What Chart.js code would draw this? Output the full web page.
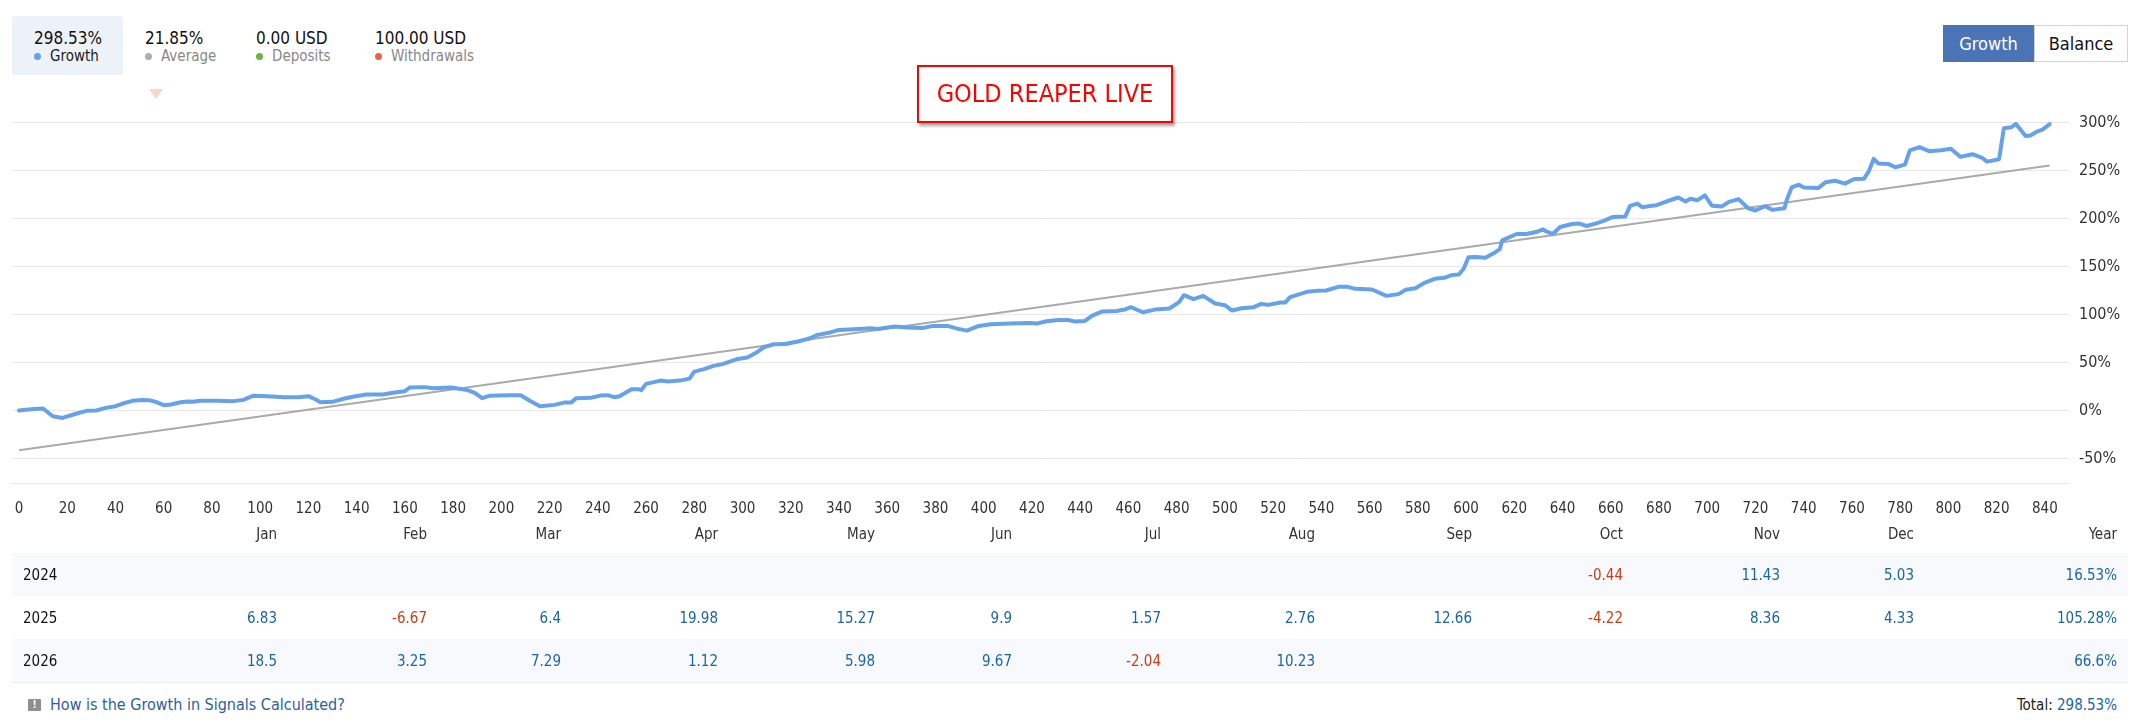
<!DOCTYPE html>
<html>
<head>
<meta charset="utf-8">
<title>Growth</title>
<script src="https://cdn.jsdelivr.net/npm/chart.js@4.4.1/dist/chart.umd.min.js"></script>
<style>
    body {
        margin: 0;
        width: 2141px;
        height: 727px;
        position: relative;
        overflow: hidden;
        background: #fff;
        font-family: 'DejaVu Sans Condensed', 'DejaVu Sans', sans-serif;
        color: #222;
    }
    .stats-active {
        position: absolute; left: 12px; top: 16px; width: 111px; height: 59px;
        background: #edf2f9; border-radius: 3px;
    }
    .stat { position: absolute; top: 0; white-space: nowrap; }
    .stat .num { position: absolute; left: 0; top: 27px; font-size: 17px; line-height: 22px; color: #111; }
    .stat .dot { position: absolute; left: 0; top: 53px; width: 7px; height: 7px; border-radius: 50%; }
    .stat .lbl { position: absolute; left: 16px; top: 46px; font-size: 15px; line-height: 20px; color: #888; }
    .stat.active .lbl { color: #222; }
    .marker {
        position: absolute; left: 149px; top: 89px; width: 0; height: 0;
        border-left: 7px solid transparent; border-right: 7px solid transparent;
        border-top: 10px solid #f9d6cc;
    }
    .btn {
        position: absolute; top: 25px; height: 37px; line-height: 37px; box-sizing: border-box;
        text-align: center; font-size: 18px;
    }
    .btn-on { left: 1943px; width: 91px; background: #4a74b5; color: #fff; }
    .btn-off { left: 2034px; width: 94px; background: #fff; color: #111; border: 1px solid #d3d3d3; line-height: 35px; }
    .title-box {
        position: absolute; left: 917px; top: 65px; width: 256px; height: 58px; z-index: 5;
        box-sizing: border-box; border: 2px solid #f00; background: #fff;
        box-shadow: 2px 3px 3px rgba(0, 0, 0, 0.35);
        color: #f00; font-size: 25px; line-height: 54px; text-align: center;
    }
    .chart-wrap { position: absolute; left: 0; top: 70px; width: 2141px; height: 450px; }
    table {
        position: absolute; left: 12px; top: 514px; width: 2116px;
        border-collapse: collapse; table-layout: fixed; font-size: 15px;
    }
    th, td { padding: 0 11px; text-align: right; white-space: nowrap; font-weight: normal; }
    th { height: 39px; color: #333; }
    td { height: 43px; color: #1a64a8; }
    td.year { text-align: left; color: #111; }
    td.neg { color: #cc3d17; }
    tbody tr:nth-child(odd) td { background: #f7f9fc; }
    tbody tr:last-child td { border-bottom: 1px solid #ebebeb; }
    .help-icon {
        position: absolute; left: 28px; top: 699px; width: 13px; height: 12px;
        background: #8f8f8f; color: #fff; font-size: 10px; line-height: 12px;
        text-align: center; font-weight: bold; border-radius: 1px;
    }
    .help-link { position: absolute; left: 50px; top: 695px; font-size: 16px; line-height: 20px; color: #2d5e9e; }
    .total { position: absolute; right: 24px; top: 695px; font-size: 15px; line-height: 20px; color: #222; }
    .total span { color: #1a64a8; }
</style>
</head>
<body>

<div class="stats-active"></div>
<div id="stats"></div>
<div class="marker"></div>

<div class="btn btn-on">Growth</div>
<div class="btn btn-off">Balance</div>

<div class="title-box">GOLD REAPER LIVE</div>

<div class="chart-wrap"><canvas id="myChart"></canvas></div>

<table id="monthTable"></table>

<div class="help-icon">!</div>
<div class="help-link">How is the Growth in Signals Calculated?</div>
<div class="total">Total: <span id="totalValue"></span></div>

<script>
// Header statistics
const statValues = ['298.53%', '21.85%', '0.00 USD', '100.00 USD'];
const statLabels = ['Growth', 'Average', 'Deposits', 'Withdrawals'];
const statColors = ['#66a2ea', '#aaadb2', '#72b043', '#e4673f'];
const statLefts = [34, 145, 256, 375];

// Growth curve (trade number -> growth %)
const growthX = [
    0, 6, 10, 14, 18, 24, 28, 32, 36, 40, 43, 47, 51, 54, 57, 60, 63, 67, 70, 72,
    75, 82, 89, 93, 97, 103, 110, 116, 120, 123, 125, 130, 135, 139, 144, 151, 155, 160, 162, 168,
    172, 179, 186, 189, 192, 195, 199, 204, 208, 212, 216, 222, 226, 229, 231, 237, 241, 244, 247, 249,
    254, 257, 258, 260, 266, 269, 274, 278, 280, 284, 288, 292, 298, 302, 306, 309, 313, 318, 323, 328,
    331, 336, 340, 348, 353, 356, 363, 368, 375, 379, 385, 389, 393, 398, 403, 411, 419, 422, 426, 431,
    435, 438, 442, 445, 449, 455, 459, 461, 466, 471, 477, 481, 483, 487, 491, 496, 500, 503, 507, 512,
    515, 518, 523, 525, 527, 534, 538, 542, 547, 551, 554, 561, 567, 572, 575, 579, 583, 587, 591, 594,
    597, 599, 601, 604, 608, 612, 614, 615, 621, 625, 629, 632, 633, 636, 639, 644, 647, 650, 654, 657,
    661, 666, 668, 671, 673, 677, 679, 683, 688, 691, 693, 696, 699, 702, 706, 709, 713, 717, 720, 724,
    727, 732, 733, 735, 738, 740, 746, 749, 753, 757, 761, 765, 767, 769, 771, 775, 778, 782, 784, 788,
    792, 797, 801, 805, 810, 814, 816, 821, 823, 826, 828, 832, 834, 837, 839, 842
];
const growthY = [
    0, 1.7, 2.1, -5.9, -7.7, -3.1, -0.3, 0, 2.8, 4.5, 7.3, 10.1, 11.1, 10.8, 8.7, 5.6, 6.3, 8.7, 9.4, 9.1,
    10.1, 10.1, 9.8, 11.1, 15.3, 15, 13.9, 13.9, 15, 11.5, 8.7, 9.1, 12.5, 14.6, 16.7, 16.7, 18.5, 20.2, 24, 24.4,
    23.3, 24, 21.3, 18.5, 12.9, 15.3, 15.7, 16, 16, 10, 4.5, 5.9, 8.3, 8.3, 12.8, 13.2, 15.6, 16, 13.9, 14.9,
    22.2, 22.2, 21.2, 27.8, 31.2, 30.2, 31.2, 33.3, 40.6, 43.1, 46.5, 48.6, 53.8, 55.2, 60.8, 66, 69.1, 69.4, 71.9, 75.3,
    78.8, 81.2, 84, 85, 85.8, 85, 87.5, 86.5, 86.1, 88.2, 88.2, 85.4, 83.3, 88.2, 89.9, 90.6, 91.3, 90.6, 93, 94.4,
    94.4, 92.7, 93.4, 99, 103.1, 103.8, 105.6, 107.7, 102.4, 105.2, 106.3, 112.9, 120.2, 116, 119.5, 111.5, 109.8, 104.2, 106.6, 107.7,
    111.1, 110.1, 112.5, 112.5, 118.1, 123.7, 124.7, 125.1, 128.9, 128.9, 126.8, 126.1, 119.5, 121.3, 125.8, 127.5, 133.4, 137.3, 138.3, 141.1,
    141.8, 147.7, 159.6, 159.9, 159.2, 164.8, 168.3, 177.3, 184, 184, 186, 188.8, 187, 183.9, 191.3, 194.4, 194.8, 192.3, 195.1, 197.6,
    201.7, 202.1, 213.3, 215.7, 211.9, 213.3, 214, 217.8, 222, 217.8, 220.6, 219.2, 224.1, 213.3, 212.6, 217.5, 220.3, 210.8, 208.4, 212.9,
    209.1, 210.8, 219.6, 232.5, 235.3, 232.5, 231.8, 237.8, 239.5, 236.4, 241.3, 241.6, 249.3, 262.2, 257.4, 257, 253.5, 256.3, 271, 274.5,
    270.3, 271.3, 272.7, 264.3, 267.1, 263.3, 259.4, 261.9, 294.1, 295.1, 298.6, 286, 286.7, 290.9, 292.7, 298.5
];

// Average trend line
const trendX = [0, 842];
const trendY = [-41.3, 255.3];

// Monthly table
const months = ['Jan', 'Feb', 'Mar', 'Apr', 'May', 'Jun', 'Jul', 'Aug', 'Sep', 'Oct', 'Nov', 'Dec'];
const years = ['2024', '2025', '2026'];
const monthly2024 = [null, null, null, null, null, null, null, null, null, -0.44, 11.43, 5.03];
const monthly2025 = [6.83, -6.67, 6.4, 19.98, 15.27, 9.9, 1.57, 2.76, 12.66, -4.22, 8.36, 4.33];
const monthly2026 = [18.5, 3.25, 7.29, 1.12, 5.98, 9.67, -2.04, 10.23, null, null, null, null];
const yearTotals = [16.53, 105.28, 66.6];
const totalGrowth = 298.53;

// Build stats header
function buildStats() {
    const box = document.getElementById('stats');
    statValues.forEach((value, i) => {
        const item = document.createElement('div');
        item.className = 'stat' + (i === 0 ? ' active' : '');
        item.style.left = statLefts[i] + 'px';
        item.innerHTML = `
            <div class="num">${value}</div>
            <div class="dot" style="background:${statColors[i]}"></div>
            <div class="lbl">${statLabels[i]}</div>
        `;
        box.appendChild(item);
    });
}

// Build monthly table
function buildTable() {
    const table = document.getElementById('monthTable');
    const widths = [126, 150, 150, 134, 157, 157, 137, 149, 154, 157, 151, 157, 134, 203];
    let html = '<colgroup>' + widths.map(w => `<col style="width:${w}px">`).join('') + '</colgroup>';
    html += '<thead><tr><th></th>' + months.map(m => `<th>${m}</th>`).join('') + '<th>Year</th></tr></thead><tbody>';
    const rows = [monthly2024, monthly2025, monthly2026];
    rows.forEach((values, r) => {
        html += `<tr><td class="year">${years[r]}</td>`;
        values.forEach(v => {
            if (v === null) html += '<td></td>';
            else html += `<td class="${v < 0 ? 'neg' : ''}">${v}</td>`;
        });
        html += `<td>${yearTotals[r]}%</td></tr>`;
    });
    html += '</tbody>';
    table.innerHTML = html;
    document.getElementById('totalValue').textContent = totalGrowth + '%';
}

// Growth chart
function showChart() {
    Chart.defaults.font.family = "'DejaVu Sans Condensed', 'DejaVu Sans', sans-serif";
    const ctx = document.getElementById('myChart').getContext('2d');
    new Chart(ctx, {
        type: 'line',
        data: {
            datasets: [{
                label: 'Growth',
                data: growthX.map((x, i) => ({ x: x, y: growthY[i] })),
                borderColor: '#66a2ea',
                borderWidth: 4,
                pointRadius: 0,
                borderJoinStyle: 'round',
                borderCapStyle: 'round',
                tension: 0
            }, {
                label: 'Average',
                data: trendX.map((x, i) => ({ x: x, y: trendY[i] })),
                borderColor: '#aaaaaa',
                borderWidth: 2,
                pointRadius: 0
            }]
        },
        options: {
            responsive: true,
            maintainAspectRatio: false,
            animation: false,
            layout: { padding: { left: 12, right: 0, top: 20, bottom: 0 } },
            plugins: { legend: { display: false }, tooltip: { enabled: false } },
            scales: {
                x: {
                    type: 'linear',
                    min: -2.9,
                    max: 850,
                    grid: { display: false },
                    border: { display: true, color: '#e8e8e8', width: 1 },
                    ticks: {
                        stepSize: 20,
                        includeBounds: false,
                        maxRotation: 0,
                        autoSkip: false,
                        padding: 9,
                        color: '#333',
                        font: { size: 15 }
                    },
                    afterFit: scale => { scale.height = 37; }
                },
                y: {
                    position: 'right',
                    min: -75.5,
                    max: 334,
                    grid: { color: '#e8e8e8', lineWidth: 1, drawTicks: false },
                    border: { display: false },
                    ticks: {
                        stepSize: 50,
                        includeBounds: false,
                        padding: 10,
                        color: '#333',
                        font: { size: 16 },
                        callback: v => v + '%'
                    },
                    afterFit: scale => { scale.width = 72; }
                }
            }
        }
    });
}

document.addEventListener('DOMContentLoaded', () => {
    buildStats();
    buildTable();
    showChart();
});
</script>
</body>
</html>
